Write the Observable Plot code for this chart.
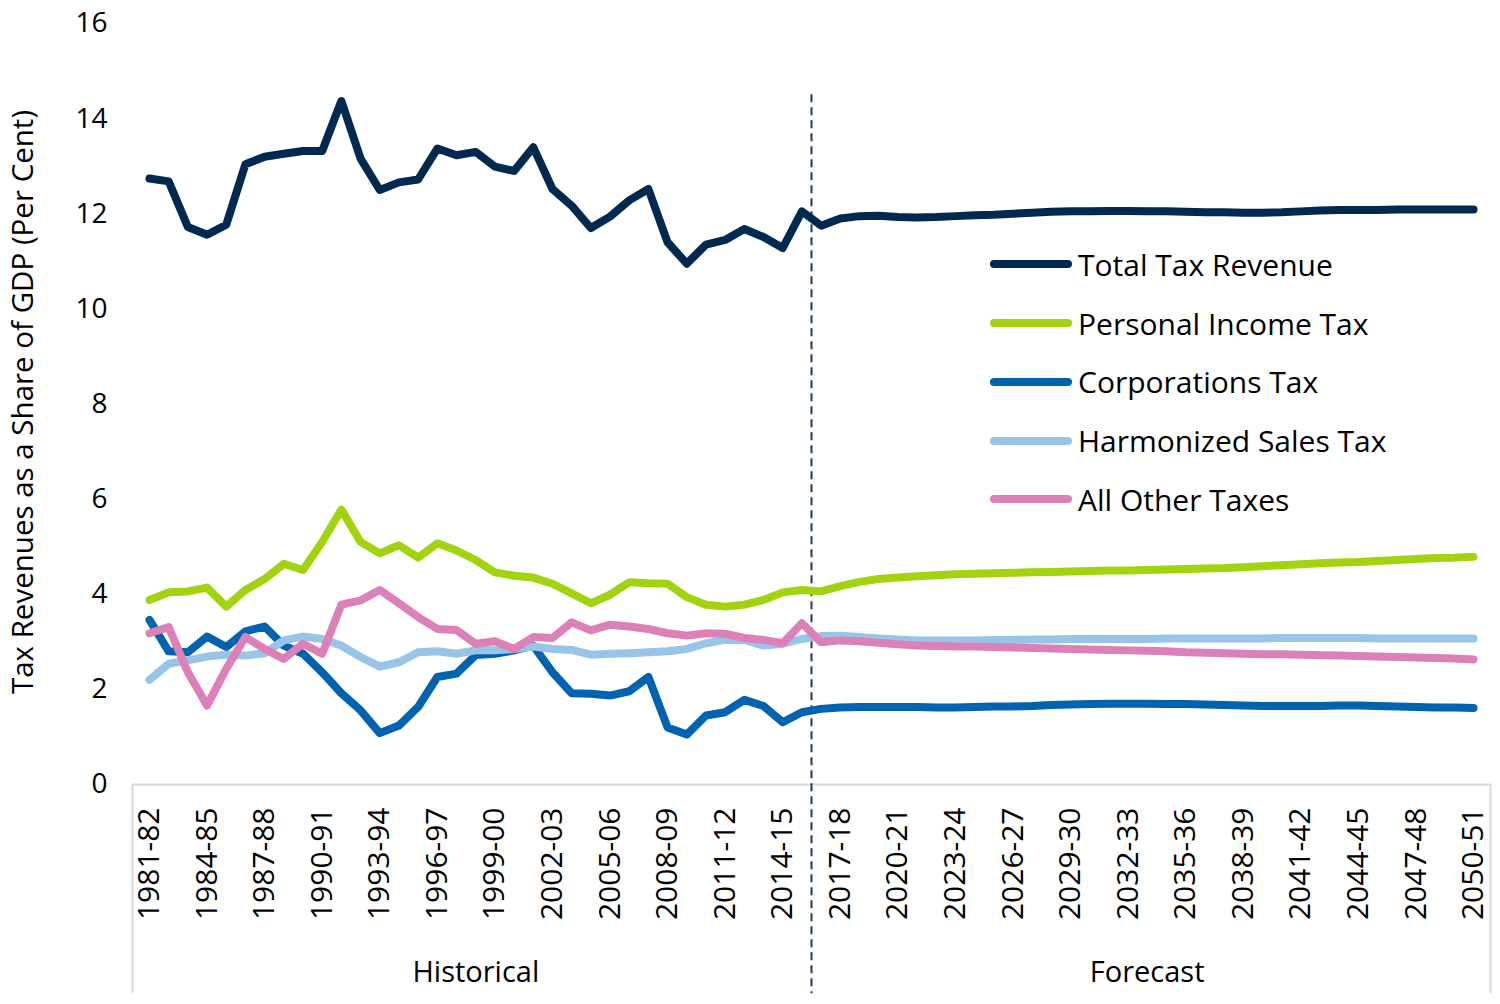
<!DOCTYPE html>
<html>
<head>
<meta charset="utf-8">
<script src="https://cdn.jsdelivr.net/npm/d3@7"></script>
<script src="https://cdn.jsdelivr.net/npm/@observablehq/plot@0.6"></script>
<style>
  body { margin: 0; background: #fff; font-family: "Open Sans", sans-serif; }
  #wrap { position: relative; width: 1500px; height: 1004px; overflow: hidden; }
  #legend { position: absolute; left: 990px; top: 235px; }
  .item { display: flex; align-items: center; height: 58.75px; font-size: 30px; color: #000; white-space: nowrap; }
  .swatch { width: 82px; height: 8px; border-radius: 4px; margin-right: 6px; }
</style>
</head>
<body>
<div id="wrap"><div id="legend"></div></div>
<script>
const categories = [
  "1981-82","1982-83","1983-84","1984-85","1985-86","1986-87","1987-88","1988-89","1989-90","1990-91",
  "1991-92","1992-93","1993-94","1994-95","1995-96","1996-97","1997-98","1998-99","1999-00","2000-01",
  "2001-02","2002-03","2003-04","2004-05","2005-06","2006-07","2007-08","2008-09","2009-10","2010-11",
  "2011-12","2012-13","2013-14","2014-15","2015-16","2016-17","2017-18","2018-19","2019-20","2020-21",
  "2021-22","2022-23","2023-24","2024-25","2025-26","2026-27","2027-28","2028-29","2029-30","2030-31",
  "2031-32","2032-33","2033-34","2034-35","2035-36","2036-37","2037-38","2038-39","2039-40","2040-41",
  "2041-42","2042-43","2043-44","2044-45","2045-46","2046-47","2047-48","2048-49","2049-50","2050-51"
];

const totalTax = [
  12.74,12.68,11.72,11.56,11.77,13.04,13.20,13.26,13.32,13.32,
  14.37,13.16,12.50,12.66,12.72,13.37,13.23,13.30,12.99,12.90,
  13.40,12.52,12.17,11.70,11.94,12.28,12.52,11.40,10.95,11.35,
  11.45,11.68,11.51,11.28,12.05,11.75,
  11.90,11.95,11.96,11.93,11.92,11.93,11.95,11.97,11.98,12.00,
  12.02,12.04,12.05,12.05,12.06,12.06,12.05,12.05,12.04,12.03,
  12.03,12.02,12.02,12.03,12.05,12.07,12.08,12.08,12.08,12.09,
  12.09,12.09,12.09,12.09
];
const personalIncomeTax = [
  3.88,4.04,4.06,4.14,3.74,4.09,4.32,4.64,4.51,5.10,
  5.78,5.10,4.86,5.03,4.77,5.07,4.92,4.72,4.46,4.39,
  4.35,4.22,4.02,3.81,3.99,4.25,4.23,4.22,3.94,3.78,
  3.74,3.78,3.88,4.04,4.09,4.06,
  4.17,4.26,4.32,4.35,4.38,4.40,4.42,4.43,4.44,4.45,
  4.46,4.47,4.48,4.49,4.50,4.50,4.51,4.52,4.53,4.54,
  4.55,4.57,4.59,4.61,4.63,4.65,4.67,4.68,4.70,4.72,
  4.74,4.76,4.77,4.79
];
const corporationsTax = [
  3.46,2.80,2.78,3.11,2.89,3.22,3.32,2.92,2.75,2.36,
  1.92,1.56,1.08,1.24,1.63,2.26,2.33,2.72,2.75,2.82,
  2.92,2.36,1.92,1.91,1.87,1.96,2.26,1.20,1.05,1.45,
  1.52,1.78,1.65,1.31,1.52,1.59,
  1.62,1.63,1.63,1.63,1.63,1.62,1.62,1.63,1.64,1.64,
  1.65,1.67,1.68,1.69,1.70,1.70,1.70,1.69,1.69,1.68,
  1.67,1.66,1.65,1.65,1.65,1.65,1.66,1.66,1.65,1.64,
  1.63,1.62,1.62,1.61
];
const harmonizedSalesTax = [
  2.20,2.54,2.61,2.69,2.73,2.71,2.76,3.03,3.11,3.06,
  2.92,2.68,2.48,2.57,2.78,2.80,2.75,2.82,2.82,2.85,
  2.90,2.85,2.83,2.73,2.75,2.76,2.78,2.80,2.85,2.97,
  3.04,3.04,2.92,2.96,3.06,3.12,
  3.13,3.10,3.07,3.05,3.03,3.03,3.03,3.03,3.04,3.04,
  3.05,3.05,3.06,3.06,3.06,3.06,3.06,3.07,3.07,3.07,
  3.07,3.07,3.07,3.08,3.08,3.08,3.08,3.08,3.07,3.07,
  3.07,3.07,3.07,3.07
];
const allOtherTaxes = [
  3.18,3.31,2.36,1.66,2.43,3.10,2.85,2.64,2.96,2.75,
  3.78,3.87,4.09,3.81,3.52,3.27,3.25,2.96,3.01,2.85,
  3.10,3.08,3.41,3.24,3.36,3.32,3.27,3.18,3.13,3.18,
  3.17,3.08,3.04,2.97,3.39,2.99,
  3.03,3.01,2.98,2.95,2.92,2.91,2.90,2.90,2.89,2.88,
  2.87,2.86,2.85,2.84,2.83,2.82,2.81,2.80,2.78,2.77,
  2.76,2.75,2.74,2.74,2.73,2.72,2.71,2.70,2.69,2.68,
  2.67,2.66,2.65,2.63
];

const seriesNames = ["Total Tax Revenue","Personal Income Tax","Corporations Tax","Harmonized Sales Tax","All Other Taxes"];
const seriesColors = ["#00294f","#a3d30f","#0063b0","#98c4e8","#dc80b8"];
const seriesValues = [totalTax, personalIncomeTax, corporationsTax, harmonizedSalesTax, allOtherTaxes];
const groupNames = ["Historical","Forecast"];
const lastHistoricalIndex = 34;
const yTicks = [0,2,4,6,8,10,12,14,16];
const yTitle = "Tax Revenues as a Share of GDP (Per Cent)";

const rows = [];
seriesNames.forEach((s, k) => seriesValues[k].forEach((v, i) => rows.push({series: s, i, value: v})));

const pad = 0.885;
const xDomain = [-pad, categories.length - 1 + pad];
const boundary = lastHistoricalIndex + 0.5;
const groups = [
  {name: groupNames[0], mid: (xDomain[0] + boundary) / 2 + 0.2},
  {name: groupNames[1], mid: (boundary + xDomain[1]) / 2 - 0.2}
];
const tickIdx = categories.map((d, i) => i).filter(i => i % 3 === 0);
const yBottom = -4.4;

const chart = Plot.plot({
  width: 1500, height: 1004,
  marginTop: 23, marginLeft: 132, marginRight: 10, marginBottom: 220,
  style: {fontFamily: '"Open Sans", sans-serif', background: "#fff", color: "#000", overflow: "visible"},
  x: {type: "linear", domain: xDomain, axis: null},
  y: {domain: [0, 16], axis: null},
  color: {domain: seriesNames, range: seriesColors},
  marks: [
    Plot.axisY(yTicks, {tickSize: 0, tickPadding: 25, fontSize: 28, label: null}),
    Plot.axisX(tickIdx, {tickSize: 0, tickPadding: 23, tickRotate: -90, fontSize: 30, label: null, tickFormat: i => categories[i]}),
    Plot.ruleY([0], {stroke: "#d9d9d9", strokeWidth: 2}),
    Plot.ruleX(xDomain, {y1: 0, y2: yBottom, stroke: "#d9d9d9", strokeWidth: 2}),
    Plot.ruleX([boundary], {y1: 14.5, y2: yBottom, stroke: "#1f3a5f", strokeWidth: 2, strokeDasharray: "8,5"}),
    Plot.lineY(rows, {x: "i", y: "value", z: "series", stroke: "series", strokeWidth: 8, strokeLinecap: "round", strokeLinejoin: "round"}),
    Plot.text(groups, {x: "mid", y: -3.95, text: "name", fontSize: 29}),
    Plot.text([yTitle], {frameAnchor: "left", textAnchor: "middle", lineAnchor: "middle", dx: -109, dy: -2, rotate: -90, text: d => d, fontSize: 29.5})
  ]
});
document.getElementById("wrap").prepend(chart);

const legend = document.getElementById("legend");
seriesNames.forEach((s, k) => {
  const item = document.createElement("div");
  item.className = "item";
  const sw = document.createElement("div");
  sw.className = "swatch";
  sw.style.background = seriesColors[k];
  const label = document.createElement("span");
  label.textContent = s;
  item.append(sw, label);
  legend.append(item);
});
</script>
</body>
</html>
